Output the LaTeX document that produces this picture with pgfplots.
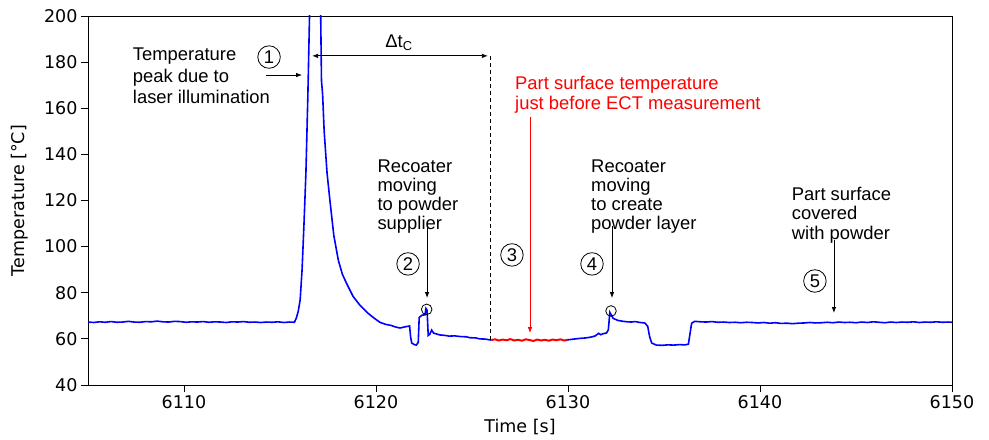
\documentclass[border=0pt]{standalone}
\usepackage{pgfplots}
\pgfplotsset{compat=1.18}
\usepackage{fontspec}
\setmainfont{DejaVu Sans}
\newfontfamily\arial{Liberation Sans}
\usetikzlibrary{arrows.meta}
\newcommand\af{\arial\fontsize{18.4bp}{20bp}\selectfont}
\begin{document}
\begin{tikzpicture}
\path[use as bounding box] (0,0) rectangle (989bp,440bp);
\begin{axis}[
  at={(88bp,55bp)}, anchor=south west,
  width=864bp, height=369bp, scale only axis,
  xmin=6105, xmax=6150, ymin=40, ymax=200,
  xtick={6110,6120,6130,6140,6150},
  ytick={40,60,80,100,120,140,160,180,200},
  tick align=outside, xtick pos=bottom, ytick pos=left,
  major tick length=7bp,
  tick style={black, line width=0.8bp},
  axis line style={line width=0.8bp},
  /pgf/number format/assume math mode=true,
  /pgf/number format/1000 sep={},
  tick label style={font=\fontsize{17.5bp}{20bp}\selectfont},
  xlabel={Time [s]}, ylabel={Temperature [°C]},
  every axis x label/.style={at={(axis description cs:0.5,-0.1274)}, anchor=base, font=\fontsize{17.5bp}{20bp}\selectfont},
  every axis y label/.style={at={(axis description cs:-0.0648,0.5)}, rotate=90, anchor=south, font=\fontsize{17.5bp}{20bp}\selectfont},
]
% main temperature signal (before ECT window)
\addplot[blue, line width=1.6bp] coordinates {
(6105.0,67.3) (6105.3,67.1) (6105.6,67.4) (6105.9,67.2) (6106.2,67.5) (6106.5,67.2)
(6106.8,67.3) (6107.1,67.6) (6107.4,67.3) (6107.7,67.2) (6108.0,67.5) (6108.3,67.4)
(6108.6,67.7) (6108.9,67.4) (6109.2,67.3) (6109.5,67.6) (6109.8,67.5) (6110.1,67.2)
(6110.4,67.4) (6110.7,67.3) (6111.0,67.5) (6111.3,67.2) (6111.6,67.4) (6111.9,67.3)
(6112.2,67.1) (6112.5,67.4) (6112.8,67.3) (6113.1,67.5) (6113.4,67.2) (6113.7,67.3)
(6114.0,67.1) (6114.3,67.3) (6114.6,67.2) (6114.9,67.4) (6115.2,67.1) (6115.5,67.3)
(6115.75,67.2) (6115.85,69) (6115.95,72) (6116.05,77) (6116.15,90) (6116.25,110)
(6116.35,132) (6116.45,165) (6116.55,205) (6116.7,250) (6116.9,265) (6117.05,230)
(6117.12,200) (6117.16,172) (6117.22,166) (6117.3,150) (6117.45,132) (6117.6,120)
(6117.8,105) (6118.04,94) (6118.25,88) (6118.47,84) (6118.8,78.5) (6119.17,74.5)
(6119.6,71) (6119.9,69) (6120.2,67.2) (6120.5,66.3) (6120.8,65.8) (6121.0,65.2)
(6121.25,64.7) (6121.5,65.2) (6121.75,65.6) (6121.8,61) (6121.86,58.2) (6122.0,57.5)
(6122.1,57.3) (6122.2,58.5) (6122.25,69.3) (6122.4,70.3) (6122.55,70.4) (6122.6,73.2)
(6122.66,72.5) (6122.72,61.5) (6122.8,62) (6122.9,63.8) (6123.0,62.5) (6123.33,61.7)
(6123.6,61.5) (6123.8,61.2) (6124.1,61.3) (6124.4,61.0) (6124.7,60.9) (6124.9,60.5)
(6125.2,60.4) (6125.4,60.0) (6125.7,59.9) (6125.9,59.6) (6126.0,59.5)
};
% ECT measurement window
\addplot[red, line width=2bp] coordinates {
(6126.0,59.5) (6126.2,59.8) (6126.4,59.3) (6126.6,59.7) (6126.8,59.4) (6127.0,59.9)
(6127.2,59.3) (6127.4,59.6) (6127.6,59.2) (6127.8,59.8) (6128.0,59.5) (6128.2,59.1)
(6128.4,59.7) (6128.6,59.3) (6128.8,59.6) (6129.0,59.2) (6129.2,59.7) (6129.4,59.4)
(6129.6,59.8) (6129.8,59.3) (6130.0,59.6)
};
% after ECT window
\addplot[blue, line width=1.6bp] coordinates {
(6130.0,59.6) (6130.3,59.9) (6130.6,60.2) (6130.9,60.4) (6131.15,60.7) (6131.4,61.2)
(6131.6,62.4) (6131.7,61.8) (6131.85,62.3) (6132.0,62.5) (6132.1,63.9) (6132.18,71.5)
(6132.28,70.0) (6132.35,68.9) (6132.6,68.0) (6132.87,67.6) (6133.1,67.4) (6133.3,67.3)
(6133.5,67.5) (6133.75,67.1) (6134.0,66.9) (6134.15,65.5) (6134.25,61) (6134.36,58.2)
(6134.6,57.3) (6134.9,57.2) (6135.2,57.4) (6135.5,57.3) (6135.8,57.5) (6136.1,57.4)
(6136.27,57.7) (6136.35,62) (6136.44,66.8) (6136.6,67.6) (6136.9,67.4) (6137.2,67.3)
(6137.5,67.5) (6137.8,67.2) (6138.1,67.3) (6138.4,67.1) (6138.7,67.2) (6139.0,67.0)
(6139.3,67.2) (6139.6,67.1) (6139.9,66.9) (6140.2,67.1) (6140.5,66.8) (6140.8,67.0)
(6141.1,66.7) (6141.4,66.8) (6141.7,66.6) (6142.0,66.8) (6142.3,66.9) (6142.6,67.1)
(6142.9,66.9) (6143.2,67.0) (6143.5,67.2) (6143.8,67.0) (6144.1,67.3) (6144.4,67.1)
(6144.7,67.2) (6145.0,67.0) (6145.3,67.3) (6145.6,67.1) (6145.9,67.4) (6146.2,67.2)
(6146.5,67.0) (6146.8,67.3) (6147.1,67.1) (6147.4,67.3) (6147.7,67.2) (6148.0,67.4)
(6148.3,67.1) (6148.6,67.3) (6148.9,67.2) (6149.2,67.4) (6149.5,67.2) (6149.8,67.3)
(6150.0,67.2)
};
% recoater peaks marked by circles
\addplot[only marks, mark=o, mark size=5.3bp, black, mark options={line width=0.8bp}] coordinates {(6122.64,72.8) (6132.24,72.1)};

% annotation 1
\node[anchor=base west, font=\af, inner sep=0pt] at (6107.33,180.6) {Temperature};
\node[anchor=base west, font=\af, inner sep=0pt] at (6107.33,171.3) {peak due to};
\node[anchor=base west, font=\af, inner sep=0pt] at (6107.33,161.9) {laser illumination};
\node[draw, circle, inner sep=0pt, minimum size=22.5bp, line width=0.8bp, font=\af] at (6114.43,182.2) {1};
\draw[-{Latex[length=6bp,width=4.5bp]}, line width=0.8bp] (6114.27,174.4) -- (6116.15,174.4);
% delta t
\draw[{Latex[length=6bp,width=4.5bp]}-{Latex[length=6bp,width=4.5bp]}, line width=0.8bp] (6116.67,182.7) -- (6125.83,182.7);
\node[anchor=base, font=\af, inner sep=0pt] at (6121.2,186.5) {Δt\textsubscript{C}};
\draw[line width=0.8bp, dash pattern=on 4bp off 3bp] (6125.94,182.7) -- (6125.94,59.5);
% red annotation
\node[anchor=base west, font=\af, inner sep=0pt, text=red] at (6127.24,168.2) {Part surface temperature};
\node[anchor=base west, font=\af, inner sep=0pt, text=red] at (6127.24,159.6) {just before ECT measurement};
\draw[red, -{Latex[length=6bp,width=4.5bp]}, line width=0.8bp] (6128.02,156) -- (6128.02,62.5);
\node[draw, circle, inner sep=0pt, minimum size=22.5bp, line width=0.8bp, font=\af] at (6127.08,96.4) {3};
% annotation 2
\node[anchor=base west, font=\af, inner sep=0pt] at (6120.07,132.1) {Recoater};
\node[anchor=base west, font=\af, inner sep=0pt] at (6120.07,123.8) {moving};
\node[anchor=base west, font=\af, inner sep=0pt] at (6120.07,115.7) {to powder};
\node[anchor=base west, font=\af, inner sep=0pt] at (6120.07,107.5) {supplier};
\draw[-{Latex[length=6bp,width=4.5bp]}, line width=0.8bp] (6122.66,109) -- (6122.66,77.7);
\node[draw, circle, inner sep=0pt, minimum size=22.5bp, line width=0.8bp, font=\af] at (6121.67,92.5) {2};
% annotation 4
\node[anchor=base west, font=\af, inner sep=0pt] at (6131.2,132.1) {Recoater};
\node[anchor=base west, font=\af, inner sep=0pt] at (6131.2,123.8) {moving};
\node[anchor=base west, font=\af, inner sep=0pt] at (6131.2,115.7) {to create};
\node[anchor=base west, font=\af, inner sep=0pt] at (6131.2,107.5) {powder layer};
\draw[-{Latex[length=6bp,width=4.5bp]}, line width=0.8bp] (6132.29,109) -- (6132.29,77.7);
\node[draw, circle, inner sep=0pt, minimum size=22.5bp, line width=0.8bp, font=\af] at (6131.25,92.5) {4};
% annotation 5
\node[anchor=base west, font=\af, inner sep=0pt] at (6141.65,119.9) {Part surface};
\node[anchor=base west, font=\af, inner sep=0pt] at (6141.65,111.6) {covered};
\node[anchor=base west, font=\af, inner sep=0pt] at (6141.65,103.2) {with powder};
\draw[-{Latex[length=6bp,width=4.5bp]}, line width=0.8bp] (6143.85,102.9) -- (6143.85,71.2);
\node[draw, circle, inner sep=0pt, minimum size=22.5bp, line width=0.8bp, font=\af] at (6142.86,85.1) {5};
\end{axis}
\end{tikzpicture}
\end{document}
